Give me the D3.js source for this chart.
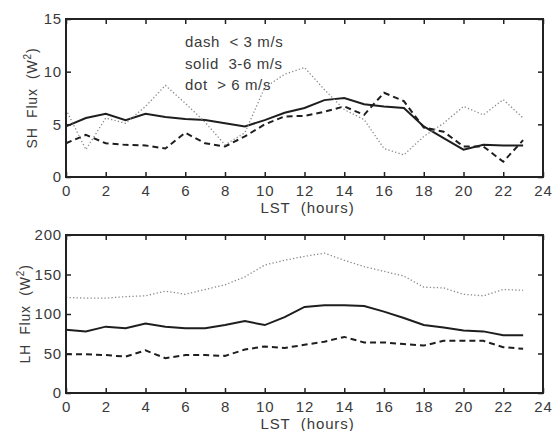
<!DOCTYPE html>
<html>
<head>
<meta charset="utf-8">
<script src="https://cdn.jsdelivr.net/npm/d3@7"></script>
<style>
  body { margin: 0; background: #fff; }
  svg text { font-family: "Liberation Sans", Arial, sans-serif; fill: #3a3a3a; }
</style>
</head>
<body>
<div id="chart"></div>
<script>
// Diurnal SH / LH flux by wind speed class

const hours = d3.range(0, 24);

const shDash  = [3.2, 4.0, 3.2, 3.05, 3.0, 2.7, 4.2, 3.2, 2.9, 3.85, 5.0, 5.75, 5.8, 6.2, 6.7, 5.9, 8.0, 7.2, 4.7, 4.3, 2.9, 2.9, 1.45, 3.5];
const shSolid = [4.8, 5.6, 6.0, 5.4, 6.0, 5.7, 5.5, 5.4, 5.1, 4.8, 5.4, 6.1, 6.55, 7.3, 7.5, 6.9, 6.7, 6.55, 4.8, 3.7, 2.6, 3.05, 3.0, 3.0];
const shDot   = [6.4, 2.6, 5.6, 5.1, 6.7, 8.7, 7.0, 5.2, 3.05, 4.2, 8.5, 9.75, 10.4, 8.3, 6.4, 5.45, 2.7, 2.1, 3.85, 5.1, 6.7, 5.9, 7.35, 5.6];

const lhDash  = [49, 49, 48, 46, 54, 44, 48, 48, 47, 55, 59, 57, 61, 65, 71, 64, 64, 62, 60, 66, 66, 66, 58, 56];
const lhSolid = [80, 78, 84, 82, 88, 84, 82, 82, 86, 91, 86, 96, 109, 111, 111, 110, 103, 95, 86, 83, 79, 78, 73, 73];
const lhDot   = [121, 120, 120, 122, 123, 129, 125, 131, 137, 147, 162, 168, 173, 177, 168, 160, 154, 148, 134, 133, 125, 123, 131, 130];

const xTicks = d3.range(0, 25, 2);
const shTicks = [0, 5, 10, 15];
const lhTicks = [0, 50, 100, 150, 200];
const legendLines = ["dash  < 3 m/s", "solid  3-6 m/s", "dot  > 6 m/s"];

const width = 553, height = 431;
const left = 66, right = 543;
const nb = s => s.replace(/ /g, "\u00a0");

const svg = d3.select("#chart").append("svg")
  .attr("width", width)
  .attr("height", height);

const x = d3.scaleLinear().domain([0, 24]).range([left, right]);

const styles = [
  {stroke: "#1e1e1e", width: 2, dash: "6,4"},
  {stroke: "#1e1e1e", width: 2, dash: null},
  {stroke: "#8a8a8a", width: 1.3, dash: "1.3,2.2"}
];

function panel(top, bottom, yMax, yTicks, series, label, labelX) {
  const y = d3.scaleLinear().domain([0, yMax]).range([bottom, top]);
  const g = svg.append("g");

  const line = d3.line()
    .x((d, i) => x(hours[i]))
    .y(d => y(d));

  series.forEach((s, k) => {
    g.append("path")
      .datum(s)
      .attr("fill", "none")
      .attr("stroke", styles[k].stroke)
      .attr("stroke-width", styles[k].width)
      .attr("stroke-dasharray", styles[k].dash)
      .attr("d", line);
  });

  // inward ticks on all sides
  const tick = 5;
  const gb = g.append("g").attr("transform", `translate(0,${bottom})`)
    .call(d3.axisBottom(x).tickValues(xTicks).tickSizeInner(-tick).tickSizeOuter(0).tickPadding(8));
  const gt = g.append("g").attr("transform", `translate(0,${top})`)
    .call(d3.axisTop(x).tickValues(xTicks).tickSizeInner(-tick).tickSizeOuter(0).tickFormat(""));
  const gl = g.append("g").attr("transform", `translate(${left},0)`)
    .call(d3.axisLeft(y).tickValues(yTicks).tickSizeInner(-tick).tickSizeOuter(0).tickPadding(4));
  const gr = g.append("g").attr("transform", `translate(${right},0)`)
    .call(d3.axisRight(y).tickValues(yTicks).tickSizeInner(-tick).tickSizeOuter(0).tickFormat(""));

  [gb, gt, gl, gr].forEach(a => {
    a.select(".domain").remove();
    a.selectAll(".tick line").attr("stroke", "#222").attr("stroke-width", 1.5);
    a.selectAll("text")
      .attr("font-size", 15)
      .attr("letter-spacing", 0.8)
      .attr("fill", "#333");
  });

  g.append("rect")
    .attr("x", left).attr("y", top)
    .attr("width", right - left).attr("height", bottom - top)
    .attr("fill", "none")
    .attr("stroke", "#222")
    .attr("stroke-width", 2);

  g.append("text")
    .attr("x", (left + right) / 2 + 3)
    .attr("y", bottom + 36)
    .attr("text-anchor", "middle")
    .attr("font-size", 15)
    .attr("letter-spacing", 0.9)
    .text(nb("LST  (hours)"));

  const yl = g.append("text")
    .attr("transform", `translate(${labelX},${(top + bottom) / 2}) rotate(-90)`)
    .attr("text-anchor", "middle")
    .attr("font-size", 14)
    .attr("letter-spacing", 0.8);
  yl.append("tspan").text(nb(label + "  Flux  (W"));
  yl.append("tspan").attr("font-size", 10).attr("dy", -6).text("2");
  yl.append("tspan").attr("dy", 6).text(")");

  return g;
}

panel(19, 177, 15, shTicks, [shDash, shSolid, shDot], "SH", 37);
panel(235, 393, 200, lhTicks, [lhDash, lhSolid, lhDot], "LH", 30);

svg.append("g").selectAll("text")
  .data(legendLines)
  .join("text")
  .attr("x", 185)
  .attr("y", (d, i) => 47 + i * 21.5)
  .attr("font-size", 15)
  .attr("letter-spacing", 0.6)
  .text(d => nb(d));
</script>
</body>
</html>
